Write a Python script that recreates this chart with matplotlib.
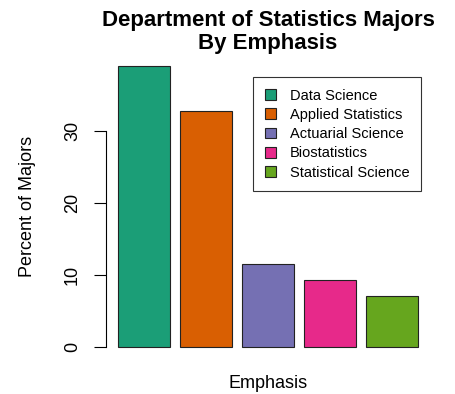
import matplotlib
matplotlib.use("Agg")
import matplotlib.pyplot as plt
from matplotlib.patches import Patch

plt.rcParams['font.family'] = ['Liberation Sans', 'DejaVu Sans']

# values
emphasis = ["Data Science", "Applied Statistics", "Actuarial Science",
            "Biostatistics", "Statistical Science"]
percent = [39.0, 32.8, 11.6, 9.4, 7.1]
colors = ["#1B9E77", "#D95F02", "#7570B3", "#E7298A", "#66A61E"]
yticks = [0, 10, 20, 30]

W, H = 455, 394
fig = plt.figure(figsize=(W / 100, H / 100), dpi=100)

# plot region in pixels (R-style barplot with 4% padding)
left, right, top, bottom = 106, 430, 55, 358.5
ax = fig.add_axes([left / W, 1 - bottom / H, (right - left) / W, (bottom - top) / H])

# R barplot positions: width 1, space 0.2
xpos = [0.2 + 1.2 * i + 0.5 for i in range(len(percent))]
ax.bar(xpos, percent, width=1.0, color=colors, edgecolor="#222222", linewidth=0.8)

xmin, xmax = 0.2, 0.2 + 1.2 * len(percent) - 0.2
xr = xmax - xmin
ax.set_xlim(xmin - 0.04 * xr, xmax + 0.04 * xr)
ymax = max(percent)
ax.set_ylim(-0.04 * ymax, ymax * 1.04)

for s in ["top", "right", "bottom"]:
    ax.spines[s].set_visible(False)
ax.spines["left"].set_bounds(0, 30)
ax.spines["left"].set_linewidth(0.8)
ax.set_xticks([])
ax.set_yticks(yticks)
ax.set_yticklabels([str(t) for t in yticks], rotation=90, va="center")
ax.tick_params(axis="y", length=9, width=0.8, labelsize=13, pad=9)

fig.text((left + right) / 2 / W, 1 - 383 / H, "Emphasis", ha="center", va="center", fontsize=13)
fig.text(28 / W, 1 - 206 / H, "Percent of Majors", ha="center", va="center",
         rotation=90, fontsize=13)
fig.text((left + right) / 2 / W, 1 - 32 / H, "Department of Statistics Majors\nBy Emphasis",
         ha="center", va="center", fontsize=16, fontweight="bold", linespacing=1.1)

handles = [Patch(facecolor=c, edgecolor="#222222", linewidth=0.8) for c in colors]
leg = ax.legend(handles, emphasis, loc="upper left",
                bbox_to_anchor=(253 / W, 1 - 77 / H), bbox_transform=fig.transFigure,
                fontsize=10.5, frameon=True, fancybox=False, borderaxespad=0,
                handlelength=0.75, handleheight=0.75, handletextpad=1.0,
                borderpad=0.8, labelspacing=0.36)
leg.get_frame().set_edgecolor("black")
leg.get_frame().set_linewidth(0.8)

fig.savefig("out.png", dpi=100)
